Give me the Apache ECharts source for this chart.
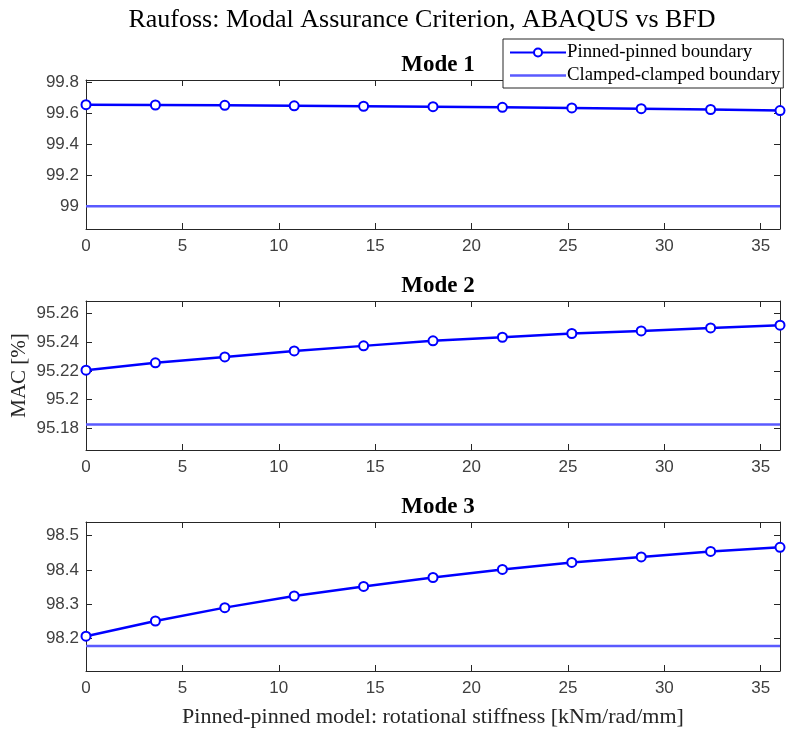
<!DOCTYPE html>
<html>
<head>
<meta charset="utf-8">
<title>Raufoss MAC</title>
<script src="https://cdn.jsdelivr.net/npm/echarts@6/dist/echarts.min.js"></script>
<style>
  html, body { margin: 0; padding: 0; background: #fff; }
  #chart { width: 788px; height: 733px; }
</style>
</head>
<body>
<div id="chart"></div>
<script>
// rotational stiffness of the pinned-pinned model [kNm/rad/mm]
const stiffness = [0, 3.6, 7.2, 10.8, 14.4, 18, 21.6, 25.2, 28.8, 32.4, 36];

// MAC [%] for the pinned-pinned model, one array per mode
const mode1Pinned = [99.655, 99.653, 99.651, 99.648, 99.645, 99.642, 99.638, 99.634, 99.629, 99.624, 99.617];
const mode2Pinned = [95.2205, 95.2256, 95.2297, 95.2339, 95.2374, 95.2409, 95.2434, 95.2460, 95.2478, 95.2499, 95.2518];
const mode3Pinned = [98.2067, 98.251, 98.290, 98.324, 98.352, 98.378, 98.4015, 98.422, 98.438, 98.454, 98.466];

// MAC [%] for the clamped-clamped model (constant, one per mode)
const clampedMac = [98.998, 95.1827, 98.178];

const modeNames = ['Mode 1', 'Mode 2', 'Mode 3'];

// tick labels
const xTicks = [0, 5, 10, 15, 20, 25, 30, 35];
const yTicks = [
  [99, 99.2, 99.4, 99.6, 99.8],
  [95.18, 95.2, 95.22, 95.24, 95.26],
  [98.2, 98.3, 98.4, 98.5]
];
const yRanges = [[98.85, 99.815], [95.165, 95.2686], [98.105, 98.54]];

const pinnedName = 'Pinned-pinned boundary';
const clampedName = 'Clamped-clamped boundary';

const axisColor = '#262626';
const pinnedColor = '#0000ff';
const clampedColor = '#5a5aff';
const serif = 'Liberation Serif';
const sans = 'Liberation Sans';

const gridTops = [80, 301, 522];
const pinnedData = [mode1Pinned, mode2Pinned, mode3Pinned];

let myChart = echarts.init(document.getElementById('chart'));

let grids = [], xAxes = [], yAxes = [], series = [], titles = [];

titles.push({
  text: 'Raufoss: Modal Assurance Criterion, ABAQUS vs BFD',
  left: 417, top: 2, textAlign: 'center',
  textStyle: { fontFamily: serif, fontSize: 26, fontWeight: 'normal', color: '#000' }
});

for (let i = 0; i < 3; i++) {
  grids.push({
    left: 86, top: gridTops[i], width: 694, height: 149,
    containLabel: false, outerBoundsMode: 'none'
  });

  // subplot title
  titles.push({
    text: modeNames[i],
    left: 433, top: gridTops[i] - 31, textAlign: 'center',
    textStyle: { fontFamily: serif, fontSize: 23, fontWeight: 'bold', color: '#000' }
  });

  let frameLine = { show: true, onZero: false, lineStyle: { color: axisColor, width: 1 } };
  let tick = { show: true, inside: true, length: 6, lineStyle: { color: axisColor } };

  // bottom x axis with labels
  xAxes.push({
    type: 'value', gridIndex: i, min: 0, max: 36, position: 'bottom',
    axisLine: frameLine,
    axisTick: Object.assign({}, tick, { customValues: xTicks }),
    axisLabel: {
      customValues: xTicks, fontFamily: sans, fontSize: 17, color: '#404040', margin: 9
    },
    splitLine: { show: false },
    name: i === 2 ? 'Pinned-pinned model: rotational stiffness [kNm/rad/mm]' : '',
    nameLocation: 'middle', nameGap: 35, nameMoveOverlap: false,
    nameTextStyle: { fontFamily: serif, fontSize: 22, color: '#262626' }
  });
  // top x axis (box)
  xAxes.push({
    type: 'value', gridIndex: i, min: 0, max: 36, position: 'top',
    axisLine: frameLine,
    axisTick: Object.assign({}, tick, { customValues: xTicks }),
    axisLabel: { show: false },
    splitLine: { show: false }
  });
  // left y axis with labels
  yAxes.push({
    type: 'value', gridIndex: i, min: yRanges[i][0], max: yRanges[i][1], position: 'left',
    axisLine: frameLine,
    axisTick: Object.assign({}, tick, { customValues: yTicks[i] }),
    axisLabel: {
      customValues: yTicks[i], fontFamily: sans, fontSize: 17, color: '#404040', margin: 7
    },
    splitLine: { show: false },
    name: i === 1 ? 'MAC [%]' : '',
    nameLocation: 'middle', nameGap: 56, nameRotate: 90, nameMoveOverlap: false,
    nameTextStyle: { fontFamily: serif, fontSize: 21, color: '#262626' }
  });
  // right y axis (box)
  yAxes.push({
    type: 'value', gridIndex: i, min: yRanges[i][0], max: yRanges[i][1], position: 'right',
    axisLine: frameLine,
    axisTick: Object.assign({}, tick, { customValues: yTicks[i] }),
    axisLabel: { show: false },
    splitLine: { show: false }
  });

  series.push({
    name: clampedName, type: 'line',
    xAxisIndex: 2 * i, yAxisIndex: 2 * i,
    data: [[stiffness[0], clampedMac[i]], [stiffness[stiffness.length - 1], clampedMac[i]]],
    symbol: 'none',
    lineStyle: { color: clampedColor, width: 2.5 },
    itemStyle: { color: clampedColor },
    silent: true, z: 2
  });
  series.push({
    name: pinnedName, type: 'line',
    xAxisIndex: 2 * i, yAxisIndex: 2 * i,
    data: stiffness.map((x, k) => [x, pinnedData[i][k]]),
    symbol: 'emptyCircle', symbolSize: 9,
    lineStyle: { color: pinnedColor, width: 2.5 },
    itemStyle: { color: pinnedColor, borderColor: pinnedColor, borderWidth: 2 },
    clip: false, silent: true, z: 3
  });
}

myChart.setOption({
  animation: false,
  backgroundColor: '#fff',
  title: titles,
  legend: {
    data: [
      { name: pinnedName },
      { name: clampedName, icon: 'path://M0,0H56V2.5H0Z' }
    ],
    orient: 'vertical',
    left: 503, top: 39,
    padding: [4, 3, 3, 6],
    itemGap: 4,
    itemWidth: 56, itemHeight: 10,
    backgroundColor: '#fff',
    borderColor: axisColor, borderWidth: 1,
    textStyle: { fontFamily: serif, fontSize: 18.8, color: '#000', padding: [0, 0, 0, -4] },
    z: 10
  },
  grid: grids,
  xAxis: xAxes,
  yAxis: yAxes,
  series: series
});
</script>
</body>
</html>
